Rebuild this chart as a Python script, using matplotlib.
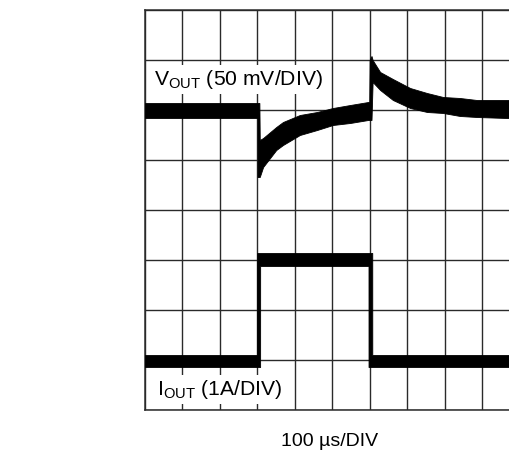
import matplotlib
matplotlib.use("Agg")
from matplotlib import pyplot as plt

plt.rcParams['font.family'] = ['Liberation Sans', 'DejaVu Sans']

# scope trace envelopes, in divisions (x: 100 us/div, y: screen divisions)
vout_x = [0.0, 3.0, 3.001, 3.05, 3.06, 3.15, 3.5, 3.68, 4.13, 4.59, 5.01, 5.47,
          5.95, 5.98, 5.99, 6.04, 6.07, 6.27, 6.61, 7.07, 7.52, 7.95, 8.4, 8.85,
          9.65, 10.0]
vout_hi = [6.14, 6.14, 6.14, 6.14, 5.40, 5.44, 5.66, 5.76, 5.90, 5.96, 6.04, 6.10,
           6.16, 6.16, 7.00, 7.08, 7.00, 6.76, 6.62, 6.44, 6.34, 6.26, 6.24, 6.20,
           6.20, 6.20]
vout_lo = [5.84, 5.84, 4.66, 4.66, 4.66, 4.86, 5.20, 5.30, 5.50, 5.60, 5.70, 5.74,
           5.80, 5.80, 5.80, 5.80, 6.56, 6.40, 6.20, 6.04, 5.96, 5.94, 5.88, 5.86,
           5.84, 5.84]

iout_x = [0.0, 2.99, 2.991, 3.07, 3.071, 5.96, 5.961, 6.06, 6.061, 10.0]
iout_hi = [1.10, 1.10, 3.14, 3.14, 3.14, 3.14, 3.14, 3.14, 1.10, 1.10]
iout_lo = [0.86, 0.86, 0.86, 0.86, 2.88, 2.88, 0.86, 0.86, 0.86, 0.86]

fig = plt.figure(figsize=(5.10, 4.53), dpi=100)
ax = fig.add_axes([145 / 510, 43 / 453, 375 / 510, 400 / 453])

ax.fill_between(vout_x, vout_lo, vout_hi, facecolor='black', edgecolor='black',
                linewidth=0.6, zorder=4)
ax.fill_between(iout_x, iout_lo, iout_hi, facecolor='black', edgecolor='black',
                linewidth=0.6, zorder=4)

ax.set_xlim(0, 10)
ax.set_ylim(0, 8)
ax.set_xticks(range(11))
ax.set_yticks(range(9))
ax.tick_params(length=0, labelbottom=False, labelleft=False)
ax.grid(True, color='#2a2a2a', linewidth=1.0, zorder=1)
ax.set_axisbelow(True)
for s in ax.spines.values():
    s.set_linewidth(1.1)
    s.set_color('#2a2a2a')

box = dict(facecolor='white', edgecolor='none', pad=2)
ax.text(0.24, 6.5, r'V$_{\mathregular{OUT}}$ (50 mV/DIV)', fontsize=15.2,
        va='baseline', ha='left', bbox=box, zorder=3)
ax.text(0.32, 0.3, r'I$_{\mathregular{OUT}}$ (1A/DIV)', fontsize=15.2,
        va='baseline', ha='left', bbox=box, zorder=3)

fig.text(330 / 510, 1 - 441 / 453, '100 \u00b5s/DIV', fontsize=14,
         ha='center', va='center')

fig.savefig('out.png', dpi=100)
